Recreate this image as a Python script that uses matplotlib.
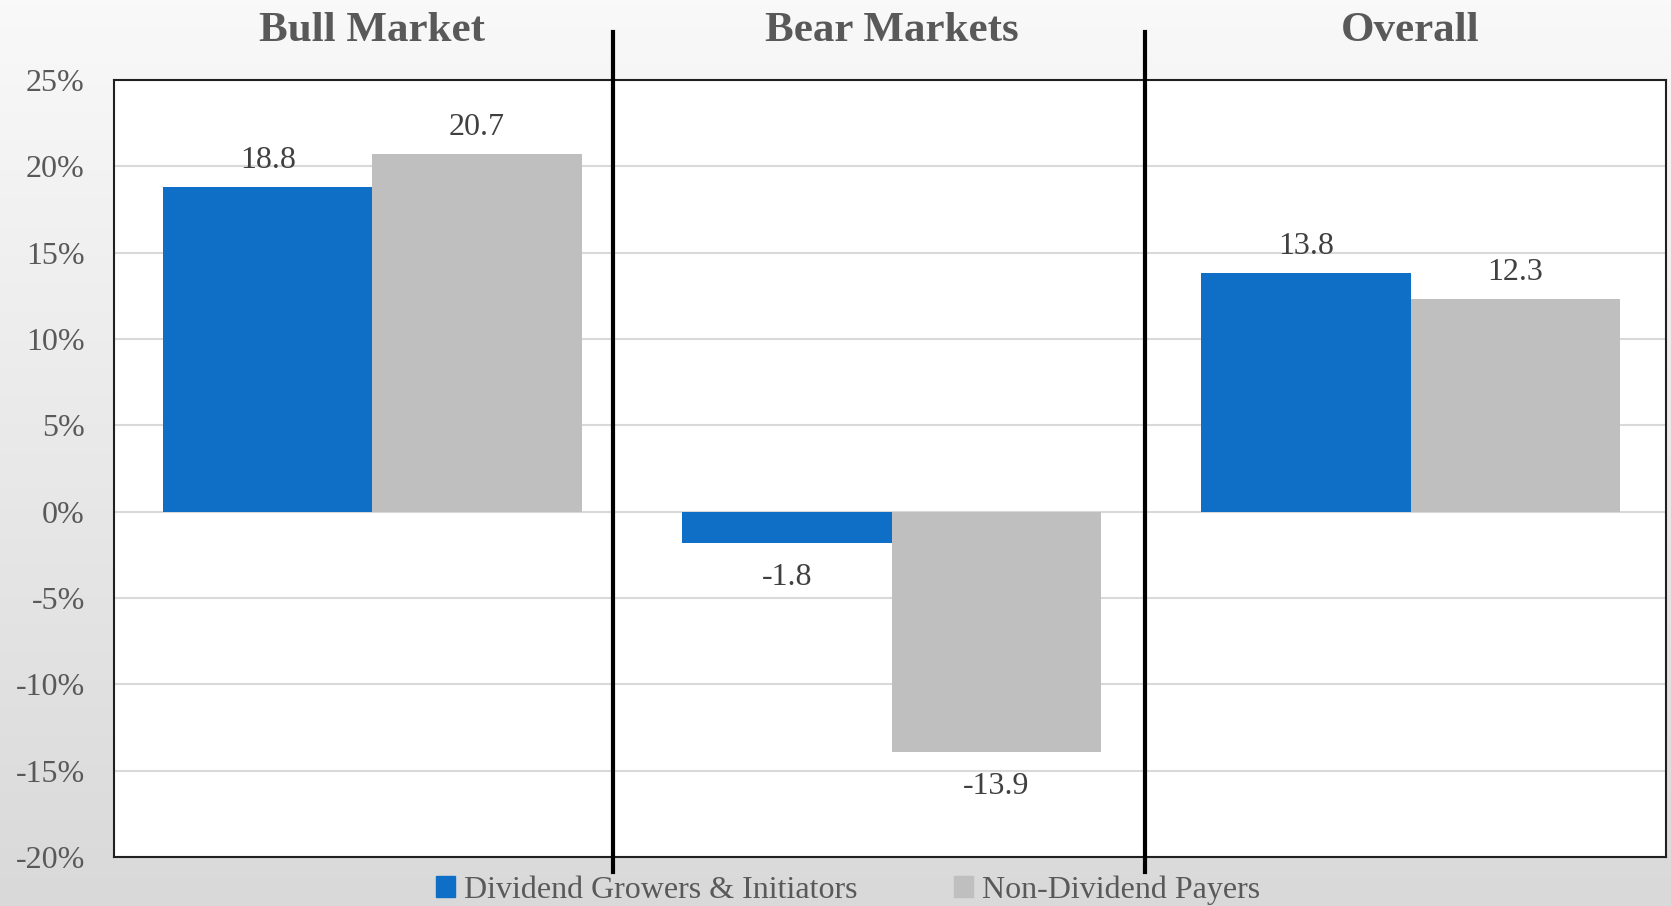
import numpy as np
import matplotlib
matplotlib.use("Agg")
import matplotlib.pyplot as plt
from matplotlib.patches import Patch

categories = ["Bull Market", "Bear Markets", "Overall"]
growers = [18.8, -1.8, 13.8]
non_payers = [20.7, -13.9, 12.3]
series_names = ["Dividend Growers & Initiators", "Non-Dividend Payers"]
yticks = [-20, -15, -10, -5, 0, 5, 10, 15, 20, 25]

BLUE = "#0F6FC6"
GRAY = "#BFBFBF"
TXT = "#595959"

plt.rcParams['font.family'] = ['Liberation Serif', 'DejaVu Serif']

fig = plt.figure(figsize=(16.71, 9.06), dpi=100)

# background gradient
bg = fig.add_axes([0, 0, 1, 1], zorder=-10)
grad = np.linspace(249, 217, 256).reshape(-1, 1) / 255.0
bg.imshow(np.dstack([grad, grad, grad]), aspect='auto', extent=[0, 1, 0, 1])
bg.axis('off')

ax = fig.add_axes([114/1671, 1-857/906, (1666-114)/1671, (857-80)/906])
ax.set_facecolor('white')
x = np.arange(len(categories))
w = 0.403
b1 = ax.bar(x - w/2, growers, w, color=BLUE, zorder=3, label=series_names[0])
b2 = ax.bar(x + w/2, non_payers, w, color=GRAY, zorder=3, label=series_names[1])

for bars, vals in ((b1, growers), (b2, non_payers)):
    for r, v in zip(bars, vals):
        off = 19 if v >= 0 else -25
        ax.annotate(f"{v:.1f}", (r.get_x() + r.get_width()/2, v),
                    xytext=(0, off), textcoords='offset points',
                    ha='center', va='center', fontsize=23, color='#404040')

ax.set_xlim(-0.498, 2.492)
ax.set_ylim(-20, 25)
ax.set_yticks(yticks)
ax.set_yticklabels([f"{t}%" for t in yticks], fontsize=23, color=TXT)
ax.tick_params(axis='y', length=0, pad=21)
ax.tick_params(axis='x', length=0, labelbottom=False)
ax.grid(axis='y', color='#D9D9D9', linewidth=1.5, zorder=0)
for s in ax.spines.values():
    s.set_color('#202020')
    s.set_linewidth(1.5)

# category titles
for xi, c in zip(x, categories):
    ax.text(xi, 1.0 + (80-31)/777, c, transform=ax.get_xaxis_transform(),
            ha='center', va='center', fontsize=31, fontweight='bold', color=TXT)

# divider lines
for xd in (0.463, 1.488):
    ax.plot([xd, xd], [-(872-857)/777, 1 + (80-32)/777],
            transform=ax.get_xaxis_transform(), color='black', linewidth=3,
            clip_on=False, zorder=5)

handles = [Patch(color=BLUE), Patch(color=GRAY)]
fig.legend(handles, series_names, loc='center', bbox_to_anchor=(848/1671, 1-890/906),
           ncol=2, frameon=False, fontsize=23, labelcolor=TXT,
           handlelength=0.6, handleheight=0.6, handletextpad=0.3, columnspacing=3.0)

fig.savefig("out.png", dpi=100)
